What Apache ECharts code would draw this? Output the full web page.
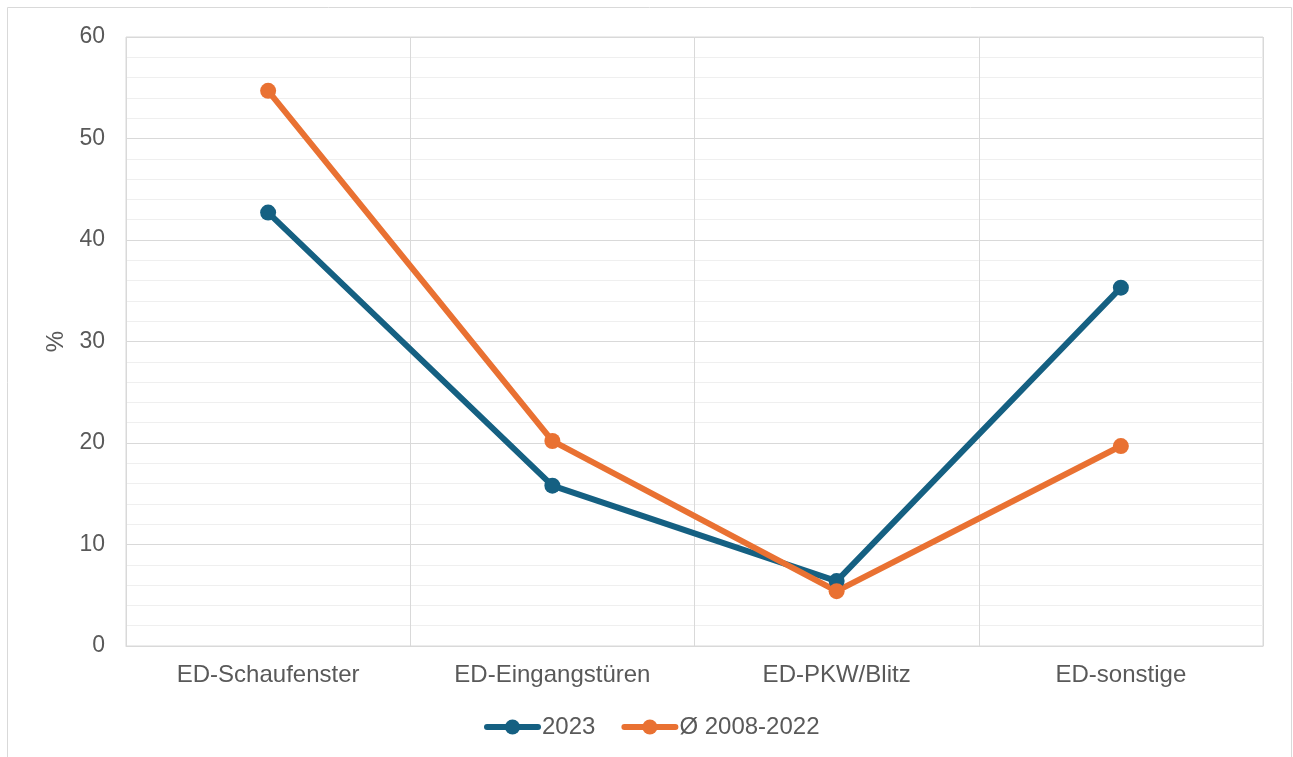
<!DOCTYPE html>
<html>
<head>
<meta charset="utf-8">
<script src="https://cdn.jsdelivr.net/npm/echarts@6/dist/echarts.min.js"></script>
<style>
  html, body { margin: 0; padding: 0; background: #fff; }
  #chart { width: 1293px; height: 757px; }
</style>
</head>
<body>
<div id="chart"></div>
<script>
const categories = ['ED-Schaufenster', 'ED-Eingangstüren', 'ED-PKW/Blitz', 'ED-sonstige']
const values2023 = [42.7, 15.8, 6.4, 35.3]
const valuesAvg = [54.7, 20.2, 5.4, 19.7]
const seriesNames = ['2023', 'Ø 2008-2022']

const textColor = '#595959'
const font = 'Liberation Sans, Arial, sans-serif'

const chart = echarts.init(document.getElementById('chart'))

const lineSeries = (name, data, color) => ({
  name: name,
  type: 'line',
  data: data,
  symbol: 'circle',
  symbolSize: 16,
  lineStyle: { color: color, width: 6, cap: 'round' },
  itemStyle: { color: color },
  z: 3
})

chart.setOption({
  animation: false,
  textStyle: { fontFamily: font },
  graphic: [
    {
      type: 'rect',
      shape: { x: 7.5, y: 7.5, width: 1284, height: 800 },
      style: { fill: 'none', stroke: '#d9d9d9', lineWidth: 1 },
      silent: true
    }
  ],
  grid: {
    left: 126,
    top: 37,
    width: 1137,
    height: 609,
    show: true,
    borderColor: '#d9d9d9',
    borderWidth: 1,
    containLabel: false
  },
  legend: {
    bottom: 13,
    left: 479,
    itemWidth: 51,
    itemHeight: 19,
    itemGap: 26,
    itemStyle: { borderWidth: 0 },
    lineStyle: { width: 6, cap: 'round' },
    textStyle: { color: textColor, fontSize: 24, fontFamily: font, padding: [0, 0, 0, -1] },
    data: seriesNames
  },
  xAxis: {
    type: 'category',
    data: categories,
    boundaryGap: true,
    axisLine: { show: true, lineStyle: { color: '#d9d9d9' } },
    axisTick: { show: false },
    axisLabel: { color: textColor, fontSize: 24, margin: 17, fontFamily: font },
    splitLine: { show: true, lineStyle: { color: '#d9d9d9', width: 1 } }
  },
  yAxis: {
    type: 'value',
    min: 0,
    max: 60,
    interval: 10,
    name: '%',
    nameLocation: 'middle',
    nameGap: 55,
    nameRotate: 90,
    nameTextStyle: { color: textColor, fontSize: 24, fontFamily: font },
    axisLine: { show: false },
    axisTick: { show: false },
    axisLabel: { color: textColor, fontSize: 23, margin: 21, fontFamily: font },
    splitLine: { show: true, lineStyle: { color: '#d9d9d9', width: 1 } },
    minorTick: { show: false, splitNumber: 5 },
    minorSplitLine: { show: true, lineStyle: { color: '#efefef', width: 1 } }
  },
  series: [
    lineSeries(seriesNames[0], values2023, '#156082'),
    lineSeries(seriesNames[1], valuesAvg, '#e97132')
  ]
})
</script>
</body>
</html>
